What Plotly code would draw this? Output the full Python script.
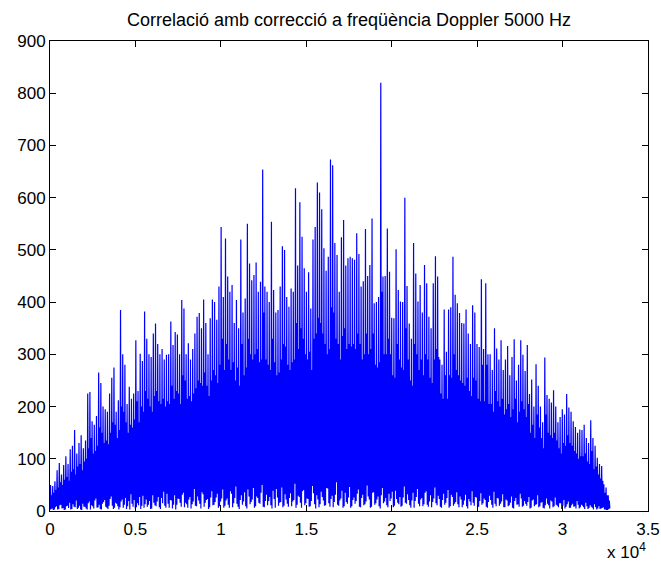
import numpy as np
import plotly.graph_objects as go

# Peak values of the correlation (one per 128-sample block)
peaks = [50,48,57,78,92,70,88,105,90,118, 125,155,110,130,145,120,135,225,228,172,
         165,182,265,245,200,195,190,225,255,275, 190,212,385,300,280,205,238,215,225,327,
         230,301,287,382,330,300,295,340,359,320, 300,310,290,299,
         300,363,318,343,338,300,404,388,300,321, 290,310,340,372,379,350,405,360,300,369,
         405,400,366,430,544,410,522,449,420,433, 360,404,350,520,380,407,550,474,442,452,
         476,420,439,654,430,420,400,554,423,380, 385,430,507,500,
         410,391,426,420,618,470,591,525,465,420, 457,388,520,544,629,610,578,503,460,487,
         673,662,513,490,420,524,557,470,484,487, 484,481,532,492,430,440,540,450,471,560,
         398,400,410,820,449,450,541,458,370,369, 501,423,
         401,400,600,431,359,330,513,455,401,433, 380,471,436,372,350,436,488,449,290,280,
         386,305,386,390,487,414,398,379,360,359, 386,340,320,394,380,320,314,444,310,436,
         300,300,270,350,311,290,327,270,290,
         316,260,295,329,250,280,327,299,268,318, 224,252,200,281,240,200,170,294,222,215,
         208,231,200,170,180,195,185,224,198,190, 172,161,150,156,155,165,140,130,174,140,
         125,102,90,86,51,45,30]

# Secondary (lower) maxima inside each block
sub_peaks = [30,35,40,45,55,50,60,65,58,75,80,70,85,90,78,95,
             100,120,140,110,115,125,160,150,130,135,128,150,170,165,140,155,
             200,190,170,150,165,160,175,210,170,200,190,230,215,200,190,220,
             230,210,205,215,200,210,205,240,215,230,225,205,260,250,215,220,
             210,225,235,250,245,240,265,240,220,250,270,260,245,280,330,270,
             320,290,270,285,250,275,240,320,260,275,330,300,290,300,310,285,
             290,380,290,280,270,330,285,260,265,290,320,315,280,270,285,290,
             360,310,350,330,300,290,305,270,330,340,370,360,340,320,300,310,
             390,380,330,320,290,335,350,310,320,315,320,310,340,320,290,300,
             340,300,310,340,280,275,285,420,300,300,330,300,260,255,320,290,
             275,270,350,290,250,240,320,300,270,290,260,300,290,255,245,290,
             310,295,225,215,260,215,260,255,300,270,260,250,245,240,255,230,
             220,255,250,215,210,280,210,280,205,205,190,230,210,200,215,185,
             195,205,180,195,215,170,190,210,195,180,205,150,165,140,185,160,
             140,120,185,150,145,140,150,135,120,110,130,125,145,130,125,115,
             110,100,105,105,110,95,90,115,80,85,70,62,58,35,30,20]

# Low values before each main maximum (one per block)
troughs = [2,5,3,9,4,12,6,3,10,16,4,8,20,6,3,14,
           8,3,18,11,5,24,7,4,14,21,6,10,28,4,16,9,
           7,22,12,4,19,32,8,5,15,27,10,6,22,12,4,30,
           11,18,7,25,37,6,14,21,5,30,12,23,8,35,16,6,
           27,13,42,9,20,5,32,16,23,7,38,12,26,6,18,41,
           10,24,6,33,15,47,8,21,12,36,5,28,17,44,9,25,
           14,50,7,31,19,11,39,6,26,16,45,10,22,8,34,18,
           52,12,27,6,40,15,23,9,48,13,30,7,37,20,11,43,
           8,29,17,55,10,24,6,35,14,46,9,26,19,41,7,31,
           13,49,22,8,36,15,28,5,44,18,11,33,24,7,39,16,
           27,10,47,14,21,6,35,19,42,9,25,13,38,8,30,17,
           45,11,23,6,33,16,40,9,27,14,36,7,22,12,31,5,
           18,38,10,26,8,34,15,21,6,29,12,37,9,24,14,32,
           7,20,11,28,5,25,13,33,8,19,10,27,6,22,12,30,
           9,17,5,24,11,20,7,26,10,15,4,21,8,18,6,14,
           9,19,5,12,7,16,4,11,6,13,3,9,5,7,3,2]

# Low values before each secondary maximum (one per block)
troughs2 = [4,2,7,3,11,5,2,9,6,3,13,7,4,10,2,8,
            5,15,3,9,20,6,12,3,17,8,4,23,10,6,14,3,
            18,6,25,9,3,14,21,7,11,4,29,13,8,19,5,16,
            9,27,4,15,10,33,6,20,12,3,24,16,31,7,13,22,
            5,18,10,28,14,36,8,21,4,26,11,17,33,9,24,6,
            20,12,38,7,25,14,4,30,18,9,41,13,22,6,28,16,
            35,8,19,11,27,5,23,42,10,17,7,32,14,25,9,21,
            6,29,16,38,11,24,8,19,34,5,22,13,27,10,44,15,
            23,7,31,12,20,39,9,17,26,6,21,14,33,8,25,11,
            18,28,6,35,12,22,9,30,15,25,7,19,37,10,23,13,
            8,26,16,32,11,20,6,27,14,22,9,35,12,18,7,24,
            15,29,8,21,12,25,6,31,10,17,13,28,7,20,9,23,
            11,16,27,7,19,12,24,8,17,21,6,14,25,10,18,7,
            22,9,16,6,19,12,8,24,10,14,17,5,20,9,13,7,
            16,6,11,14,5,18,9,12,7,15,10,5,13,6,11,8,
            5,12,7,10,4,9,6,8,3,7,5,4,6,3,2,4]
end_value = 5

block = 128
x_ticks = [0, 5000, 10000, 15000, 20000, 25000, 30000, 35000]
x_ticktext = ["0", "0.5", "1", "1.5", "2", "2.5", "3", "3.5"]
y_ticks = [0, 100, 200, 300, 400, 500, 600, 700, 800, 900]

n = len(peaks)
idx = np.arange(n)
q = block // 4
xs = np.empty(4 * n + 1)
ys = np.empty(4 * n + 1)
xs[0:4 * n:4] = idx * block
xs[1:4 * n:4] = idx * block + q
xs[2:4 * n:4] = idx * block + 2 * q
xs[3:4 * n:4] = idx * block + 3 * q
xs[-1] = n * block - 1
ys[0:4 * n:4] = troughs
ys[1:4 * n:4] = peaks
ys[2:4 * n:4] = troughs2
ys[3:4 * n:4] = sub_peaks
ys[-1] = end_value

fig = go.Figure()
fig.add_trace(go.Scatter(x=xs, y=ys, mode="lines",
                         line=dict(color="#0000FF", width=1.2), hoverinfo="skip"))

font = dict(family="Liberation Sans, Arial, sans-serif", size=17, color="black")
axis_common = dict(showline=True, linecolor="black", linewidth=1, mirror="ticks",
                   ticks="inside", ticklen=6, tickcolor="black", showgrid=False,
                   zeroline=False, tickfont=font, automargin=False)
fig.update_layout(
    width=661, height=567,
    margin=dict(l=50, r=13, t=41, b=56, autoexpand=False),
    paper_bgcolor="white", plot_bgcolor="white",
    showlegend=False,
    title=dict(text="Correlació amb correcció a freqüència Doppler 5000 Hz",
               font=dict(family="Liberation Sans, Arial, sans-serif", size=18, color="black"),
               x=349 / 661, xanchor="center", y=1 - 20 / 567, yanchor="middle"),
    xaxis=dict(range=[0, 35000], tickvals=x_ticks, ticktext=x_ticktext,
               ticklabelstandoff=3, **axis_common),
    yaxis=dict(range=[0, 900], tickvals=y_ticks, **axis_common),
)
fig.add_annotation(text="x 10<sup>4</sup>", xref="paper", yref="paper",
                   x=(648 - 50) / 598, y=-0.086, xanchor="right", yanchor="middle",
                   showarrow=False,
                   font=dict(family="Liberation Sans, Arial, sans-serif", size=17, color="black"))
fig.write_html("out.html")
